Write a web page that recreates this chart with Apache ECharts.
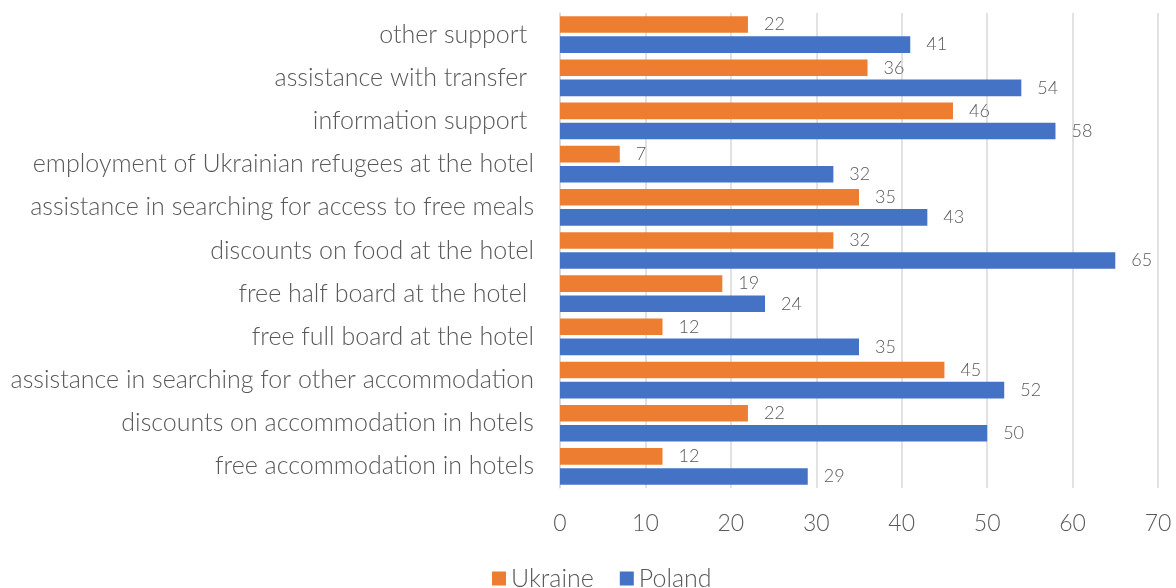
<!DOCTYPE html>
<html><head><meta charset="utf-8">
<script src="https://cdn.jsdelivr.net/npm/echarts@6/dist/echarts.min.js"></script>
<style>html,body{margin:0;padding:0;background:#fff}#c{width:1176px;height:588px}</style>
</head><body><div id="c"></div>
<script>
const categories = [
  "free accommodation in hotels",
  "discounts on accommodation in hotels",
  "assistance in searching for other accommodation",
  "free full board at the hotel",
  "free half board at the hotel ",
  "discounts on food at the hotel",
  "assistance in searching for access to free meals",
  "employment of Ukrainian refugees at the hotel",
  "information support ",
  "assistance with transfer ",
  "other support "
];
const ukraine = [12, 22, 45, 12, 19, 32, 35, 7, 46, 36, 22];
const poland = [29, 50, 52, 35, 24, 65, 43, 32, 58, 54, 41];
const xTicks = [0, 10, 20, 30, 40, 50, 60, 70];

const FONT = "Lato";
const chart = echarts.init(document.getElementById('c'), null, {renderer: 'canvas'});
chart.setOption({
  animation: false,
  textStyle: {fontFamily: FONT, color: '#595959'},
  grid: {left: 560, right: 18, top: 13, bottom: 100, containLabel: false},
  legend: {
    data: ['Ukraine', 'Poland'],
    bottom: -8, left: 487,
    itemWidth: 14, itemHeight: 14, itemGap: 26, itemStyle: {borderWidth: 0},
    icon: 'rect',
    textStyle: {fontFamily: FONT, fontSize: 25, color: '#595959', fontWeight: 300}
  },
  xAxis: {
    type: 'value', min: xTicks[0], max: xTicks[xTicks.length - 1], interval: 10,
    axisLine: {show: false}, axisTick: {show: false},
    splitLine: {lineStyle: {color: '#d9d9d9', width: 1.5}},
    axisLabel: {fontFamily: FONT, fontSize: 23, color: '#595959', margin: 24, fontWeight: 300}
  },
  yAxis: {
    type: 'category', data: categories,
    axisLine: {lineStyle: {color: '#d9d9d9', width: 1.5}},
    axisTick: {show: false},
    axisLabel: {fontFamily: FONT, fontSize: 25, color: '#595959', margin: 26, fontWeight: 300}
  },
  series: [
    {name: 'Ukraine', type: 'bar', data: ukraine, itemStyle: {color: '#ED7D31'},
     barGap: '21%', barCategoryGap: '15%',
     label: {show: true, position: 'right', distance: 16, fontFamily: FONT, fontSize: 18, color: '#595959', fontWeight: 300}},
    {name: 'Poland', type: 'bar', data: poland, itemStyle: {color: '#4472C4'},
     barGap: '21%', barCategoryGap: '15%',
     label: {show: true, position: 'right', distance: 16, fontFamily: FONT, fontSize: 18, color: '#595959', fontWeight: 300}}
  ]
});
</script></body></html>
